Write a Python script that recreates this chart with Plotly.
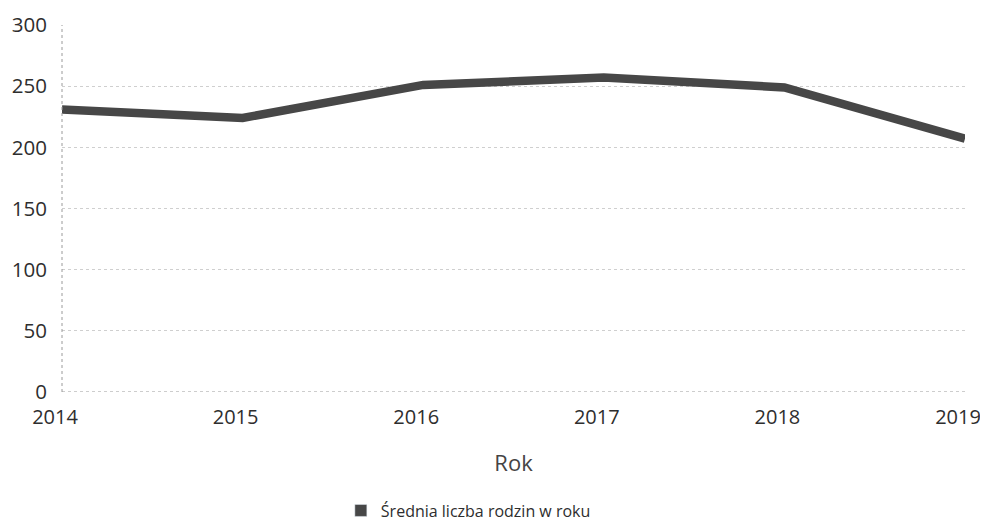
import plotly.graph_objects as go

years = [2014, 2015, 2016, 2017, 2018, 2019]
values = [231, 224, 251, 257, 249, 207]
series_name = "Średnia liczba rodzin w roku"
y_ticks = [0, 50, 100, 150, 200, 250, 300]

fig = go.Figure()
fig.add_trace(go.Scatter(
    x=years, y=values, mode="lines",
    line=dict(color="#474747", width=8.5),
    showlegend=False, name=series_name,
))
# legend swatch (square) like the reference
fig.add_trace(go.Bar(
    x=[None], y=[None], name=series_name,
    marker=dict(color="#474747"), showlegend=True,
))

# page body adds an 8px margin, so the figure is sized to fit the window
fig.update_layout(
    width=980, height=515,
    margin=dict(l=54, r=23, t=17, b=131, autoexpand=False),
    paper_bgcolor="white", plot_bgcolor="white",
    font=dict(family="Open Sans", size=20, color="#2e2e2e"),
    showlegend=True,
    legend=dict(
        orientation="h", x=0.45, xanchor="center", y=-0.323, yanchor="middle",
        font=dict(size=16, color="#2e2e2e"),
    ),
    xaxis=dict(
        range=[2014, 2019], tickmode="array", tickvals=years,
        ticktext=[str(y) for y in years],
        showgrid=False, zeroline=False, showline=False,
        ticks="", ticklabelstandoff=11, ticklabelshift=-7, automargin=False,
        tickfont=dict(size=20),
        title=dict(text="Rok", font=dict(size=22, color="#444"), standoff=26),
        fixedrange=True,
    ),
    yaxis=dict(
        range=[0, 300], tickvals=y_ticks,
        showgrid=True, gridcolor="#cfcfcf", griddash="dot", gridwidth=1,
        zeroline=False, showline=False,
        ticks="", ticklabelstandoff=14, automargin=False,
        tickfont=dict(size=20.5),
        fixedrange=True,
    ),
)
fig.add_shape(type="line", xref="paper", yref="y", x0=0, x1=1, y0=0, y1=0,
              line=dict(color="#9a9a9a", width=1, dash="dot"))
fig.add_shape(type="line", xref="paper", yref="y", x0=0, x1=0, y0=0, y1=300,
              line=dict(color="#9a9a9a", width=1, dash="dot"))

fig.write_html("out.html")
